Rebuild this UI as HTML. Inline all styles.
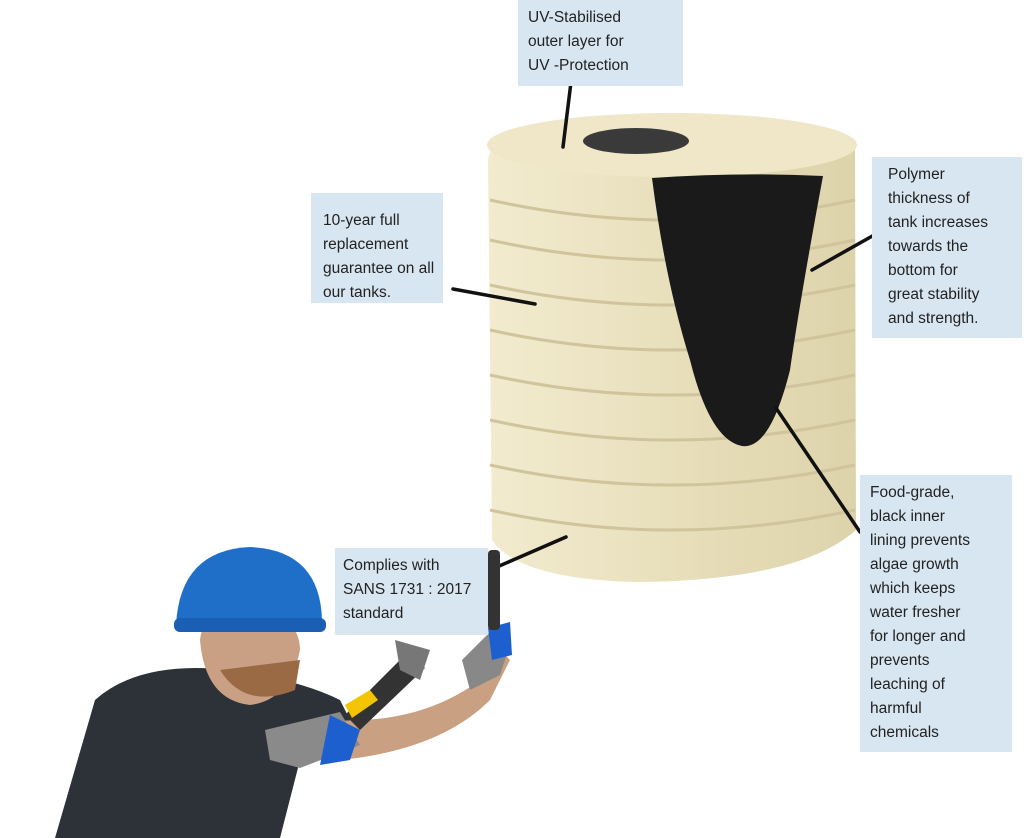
<!DOCTYPE html>
<html><head><meta charset="utf-8"><style>
html,body{margin:0;padding:0;background:#fff;}
#c{position:relative;width:1024px;height:838px;overflow:hidden;background:#fff;font-family:"Liberation Sans",sans-serif;}
.b{position:absolute;background:#d8e6f1;color:#222;font-size:15.5px;line-height:24px;box-sizing:border-box;}
</style></head><body><div id="c">
<svg width="1024" height="838" style="position:absolute;left:0;top:0">
<defs>
<linearGradient id="t" x1="0" x2="1"><stop offset="0" stop-color="#f2ebcf"/><stop offset="0.5" stop-color="#e8dfbb"/><stop offset="1" stop-color="#ddd3ab"/></linearGradient>
</defs>
<!-- tank body -->
<path d="M488 160 Q490 130 600 118 Q700 108 855 140 L856 530 Q800 580 640 582 Q520 580 492 540 Z" fill="url(#t)"/>
<ellipse cx="672" cy="145" rx="185" ry="32" fill="#efe7c8"/>
<ellipse cx="636" cy="141" rx="53" ry="13" fill="#3a3a3a"/>
<g stroke="#cfc49b" stroke-width="3" fill="none">
<path d="M490 200 Q670 240 855 200"/><path d="M490 240 Q670 280 855 240"/><path d="M490 285 Q670 325 855 285"/>
<path d="M490 330 Q670 370 855 330"/><path d="M490 375 Q670 415 855 375"/><path d="M490 420 Q670 460 855 420"/>
<path d="M490 465 Q670 505 855 465"/><path d="M490 510 Q670 550 855 510"/>
</g>
<!-- black lining -->
<path d="M652 178 Q740 172 823 176 Q800 300 790 370 Q770 450 742 446 Q710 440 690 360 Q665 280 652 178 Z" fill="#1a1a1a"/>
<!-- connectors -->
<g stroke="#111" stroke-width="3.5" stroke-linecap="round">
<line x1="572" y1="74" x2="563" y2="147"/>
<line x1="453" y1="289" x2="535" y2="304"/>
<line x1="883" y1="230" x2="812" y2="270"/>
<line x1="860" y1="532" x2="776" y2="408"/>
<line x1="490" y1="570" x2="566" y2="537"/>
</g>
<!-- worker -->
<path d="M55 838 L95 700 Q140 660 230 670 Q300 680 340 700 L360 740 L300 760 L280 838 Z" fill="#2d3238"/>
<path d="M330 720 Q420 725 480 680 L500 650 L510 660 L490 700 Q440 750 340 760 Z" fill="#caa083"/>
<path d="M200 640 Q205 600 250 605 Q300 615 300 650 Q290 700 250 705 Q205 700 200 640 Z" fill="#c9a084"/>
<path d="M220 670 Q245 710 295 690 L300 660 Z" fill="#9a6a45"/>
<path d="M176 625 Q180 550 250 547 Q320 550 322 620 Z" fill="#1f6fc9"/>
<rect x="174" y="618" width="152" height="14" rx="6" fill="#1a5fb4"/>
<path d="M265 730 L340 712 L360 745 L300 768 L270 760 Z" fill="#8a8a8a"/>
<path d="M330 715 L360 730 L350 760 L320 765 Z" fill="#1e5fd0"/>
<path d="M345 715 L405 655 L425 668 L360 730 Z" fill="#333"/>
<path d="M345 705 L370 690 L378 700 L352 718 Z" fill="#f2c500"/>
<path d="M395 640 L430 650 L420 680 L400 670 Z" fill="#777"/>
<path d="M462 660 L490 632 L510 645 L500 675 L470 690 Z" fill="#888"/>
<path d="M488 628 L510 622 L512 655 L492 660 Z" fill="#1e5fd0"/>
<rect x="488" y="550" width="12" height="80" rx="4" fill="#333"/>
</svg>
<div class="b" style="left:518px;top:0;width:165px;height:86px;padding:6px 0 0 10px">UV-Stabilised<br>outer layer for<br>UV -Protection</div>
<div class="b" style="left:311px;top:193px;width:132px;height:110px;padding:16px 0 0 12px">10-year full<br>replacement<br>guarantee on all<br>our tanks.</div>
<div class="b" style="left:872px;top:157px;width:150px;height:181px;padding:6px 0 0 16px">Polymer<br>thickness of<br>tank increases<br>towards the<br>bottom for<br>great stability<br>and strength.</div>
<div class="b" style="left:860px;top:475px;width:152px;height:277px;padding:6px 0 0 10px">Food-grade,<br>black inner<br>lining prevents<br>algae growth<br>which keeps<br>water fresher<br>for longer and<br>prevents<br>leaching of<br>harmful<br>chemicals</div>
<div class="b" style="left:335px;top:548px;width:153px;height:87px;padding:6px 0 0 8px">Complies with<br>SANS 1731 : 2017<br>standard</div>
</div></body></html>
